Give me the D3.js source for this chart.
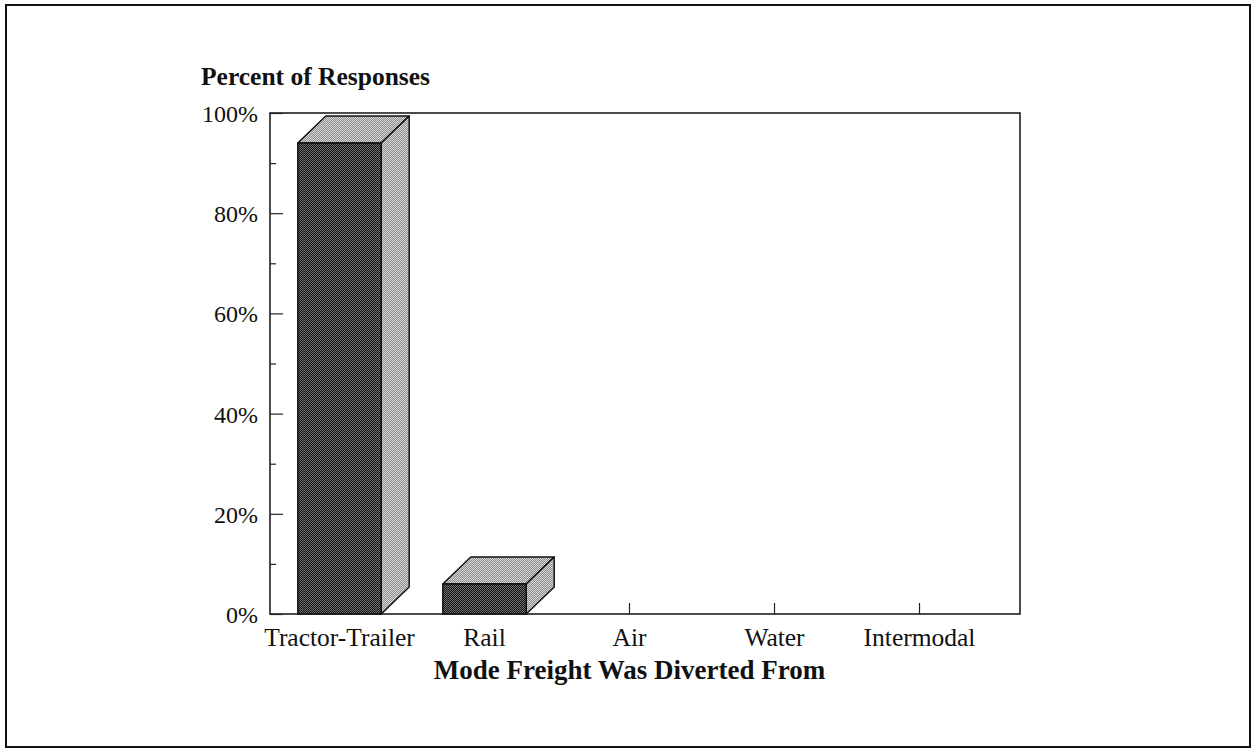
<!DOCTYPE html>
<html>
<head>
<meta charset="utf-8">
<script src="https://cdn.jsdelivr.net/npm/d3@7"></script>
<style>
  html, body { margin: 0; padding: 0; background: #fff; }
  svg { display: block; }
  text { font-family: "Liberation Serif", "Times New Roman", serif; fill: #111; }
</style>
</head>
<body>
<svg id="chart" width="1253" height="750"></svg>
<script>
// Survey responses: which mode the freight was diverted from
const categories = ["Tractor-Trailer", "Rail", "Air", "Water", "Intermodal"];
const percents = [94, 6, 0, 0, 0];
const yTicks = [0, 10, 20, 30, 40, 50, 60, 70, 80, 90, 100];
const yTickLabels = ["0%", "", "20%", "", "40%", "", "60%", "", "80%", "", "100%"];

const svg = d3.select("#chart");

// Dithered fills for the bar faces
const defs = svg.append("defs");
function checker(id, a, b) {
  const p = defs.append("pattern")
    .attr("id", id).attr("width", 2).attr("height", 2)
    .attr("patternUnits", "userSpaceOnUse");
  p.append("rect").attr("width", 2).attr("height", 2).attr("fill", a);
  p.append("rect").attr("width", 1).attr("height", 1).attr("fill", b);
  p.append("rect").attr("x", 1).attr("y", 1).attr("width", 1).attr("height", 1).attr("fill", b);
}
checker("frontFill", "#161616", "#6e6e6e");
checker("sideFill", "#8a8a8a", "#dadada");

// Outer border
svg.append("rect")
  .attr("x", 6).attr("y", 5).attr("width", 1244).attr("height", 742)
  .attr("fill", "none").attr("stroke", "#111").attr("stroke-width", 2);

const plot = { left: 270, right: 1020, top: 113, bottom: 614 };
const depth = { dx: 28, dy: 27 };

const y = d3.scaleLinear().domain([0, 100]).range([plot.bottom, plot.top]);
const x = d3.scaleBand().domain(categories).range([267, 992]).padding(0);
const barW = x.bandwidth() * 0.575;

// Plot frame
svg.append("rect")
  .attr("x", plot.left).attr("y", plot.top)
  .attr("width", plot.right - plot.left).attr("height", plot.bottom - plot.top)
  .attr("fill", "none").attr("stroke", "#111").attr("stroke-width", 1.5);

// Y axis: ticks point inward, labels on the left
const yAxis = d3.axisRight(y)
  .tickValues(yTicks)
  .tickSize(0)
  .tickFormat("");
const yg = svg.append("g").attr("transform", `translate(${plot.left},0)`).call(yAxis);
yg.select(".domain").remove();
yg.selectAll(".tick line")
  .attr("x2", (d) => (d % 20 === 0 ? 13 : 6))
  .attr("stroke", "#222").attr("stroke-width", 1.2);

svg.append("g").selectAll("text")
  .data(yTicks)
  .join("text")
  .attr("x", 258)
  .attr("y", (d) => y(d) + 9)
  .attr("text-anchor", "end")
  .style("font-size", "24px")
  .text((d, i) => yTickLabels[i]);

// X axis: short ticks pointing up from the baseline
const xAxis = d3.axisTop(x).tickSize(11).tickFormat("");
const xg = svg.append("g").attr("transform", `translate(0,${plot.bottom})`).call(xAxis);
xg.select(".domain").remove();
xg.selectAll(".tick line").attr("stroke", "#222").attr("stroke-width", 1.2);

svg.append("g").selectAll("text")
  .data(categories)
  .join("text")
  .attr("x", (d) => x(d) + x.bandwidth() / 2)
  .attr("y", 646)
  .attr("text-anchor", "middle")
  .style("font-size", "25.5px")
  .text((d) => d);

// 3D bars
const bars = svg.append("g").selectAll("g")
  .data(categories.map((c, i) => ({ c, v: percents[i] })).filter((d) => d.v > 0))
  .join("g");

bars.each(function (d) {
  const g = d3.select(this);
  const x0 = x(d.c) + (x.bandwidth() - barW) / 2;
  const x1 = x0 + barW;
  const yt = y(d.v);
  const yb = y(0);
  const { dx, dy } = depth;
  // top face
  g.append("path")
    .attr("d", `M${x0},${yt}L${x0 + dx},${yt - dy}L${x1 + dx},${yt - dy}L${x1},${yt}Z`)
    .attr("fill", "url(#sideFill)").attr("stroke", "#111").attr("stroke-width", 1.5)
    .attr("stroke-linejoin", "round");
  // side face
  g.append("path")
    .attr("d", `M${x1},${yt}L${x1 + dx},${yt - dy}L${x1 + dx},${yb - dy}L${x1},${yb}Z`)
    .attr("fill", "url(#sideFill)").attr("stroke", "#111").attr("stroke-width", 1.5)
    .attr("stroke-linejoin", "round");
  // front face
  g.append("rect")
    .attr("x", x0).attr("y", yt)
    .attr("width", barW).attr("height", yb - yt)
    .attr("fill", "url(#frontFill)").attr("stroke", "#111").attr("stroke-width", 1.5);
});

// Axis titles
svg.append("text")
  .attr("x", 201).attr("y", 85)
  .style("font-size", "25.5px").style("font-weight", "bold")
  .text("Percent of Responses");

svg.append("text")
  .attr("x", (267 + 992) / 2).attr("y", 679)
  .attr("text-anchor", "middle")
  .style("font-size", "27px").style("font-weight", "bold")
  .text("Mode Freight Was Diverted From");
</script>
</body>
</html>
